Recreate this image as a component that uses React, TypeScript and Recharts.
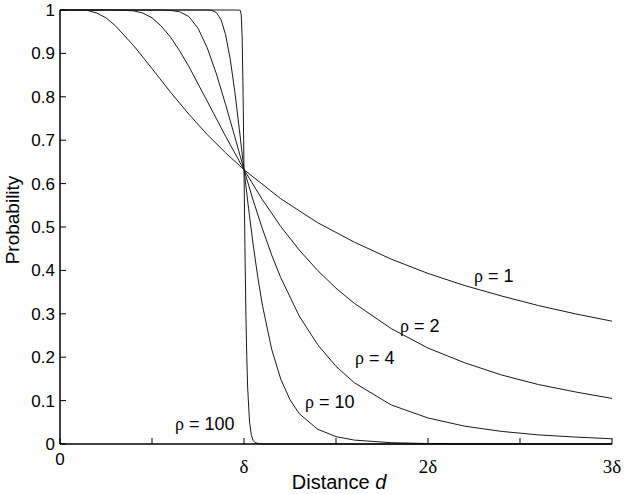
import { Line, LineChart, XAxis, YAxis } from "recharts";

// distance in units of delta, probability
const d1 = [0, 0.1, 0.15, 0.2, 0.25, 0.3, 0.4, 0.5, 0.6, 0.7, 0.8, 0.9, 1.0, 1.2, 1.4, 1.6, 1.8, 2.0, 2.2, 2.4, 2.6, 2.8, 3.0];
const p1 = [1, 1, 0.999, 0.993, 0.982, 0.964, 0.918, 0.865, 0.811, 0.76, 0.713, 0.671, 0.632, 0.565, 0.51, 0.465, 0.426, 0.393, 0.365, 0.341, 0.319, 0.3, 0.283];

const d2 = [0, 0.3, 0.4, 0.45, 0.5, 0.55, 0.6, 0.65, 0.7, 0.8, 0.9, 1.0, 1.1, 1.2, 1.3, 1.4, 1.5, 1.6, 1.8, 2.0, 2.2, 2.4, 2.6, 2.8, 3.0];
const p2 = [1, 1, 0.998, 0.993, 0.982, 0.963, 0.938, 0.906, 0.87, 0.79, 0.709, 0.632, 0.563, 0.501, 0.447, 0.4, 0.359, 0.324, 0.266, 0.221, 0.187, 0.159, 0.137, 0.12, 0.105];

const d4 = [0, 0.55, 0.6, 0.65, 0.7, 0.75, 0.8, 0.85, 0.9, 0.95, 1.0, 1.05, 1.1, 1.15, 1.2, 1.3, 1.4, 1.5, 1.6, 1.8, 2.0, 2.2, 2.4, 2.6, 2.8, 3.0];
const p4 = [1, 1, 0.999, 0.996, 0.985, 0.958, 0.913, 0.853, 0.782, 0.708, 0.632, 0.561, 0.496, 0.436, 0.383, 0.295, 0.229, 0.179, 0.141, 0.09, 0.06, 0.041, 0.029, 0.021, 0.016, 0.012];

const d10 = [0, 0.8, 0.825, 0.85, 0.875, 0.9, 0.925, 0.95, 0.975, 1.0, 1.025, 1.05, 1.075, 1.1, 1.15, 1.2, 1.25, 1.3, 1.4, 1.5, 1.6, 1.8, 2.0, 2.5, 3.0];
const p10 = [1, 1, 0.999, 0.994, 0.978, 0.943, 0.887, 0.812, 0.724, 0.632, 0.542, 0.459, 0.384, 0.32, 0.219, 0.149, 0.102, 0.07, 0.034, 0.017, 0.009, 0.003, 0.001, 0, 0];

const d100 = [0, 0.97, 0.98, 0.985, 0.99, 0.995, 1.0, 1.005, 1.01, 1.015, 1.02, 1.03, 1.04, 1.05, 1.06, 1.08, 1.1, 3.0];
const p100 = [1, 1, 0.999, 0.989, 0.935, 0.808, 0.632, 0.455, 0.309, 0.202, 0.129, 0.051, 0.02, 0.008, 0.003, 0.001, 0, 0];

const rhos = [1, 2, 4, 10, 100];
const xTicks = [0, 0.5, 1, 1.5, 2, 2.5, 3];
const xTickLabels: Record<number, string> = { 0: "0", 1: "δ", 2: "2δ", 3: "3δ" };
const yTicks = [0, 0.1, 0.2, 0.3, 0.4, 0.5, 0.6, 0.7, 0.8, 0.9, 1];

const toRows = (d: number[], p: number[]) => d.map((v, i) => ({ d: v, p: p[i] }));
const series = [toRows(d1, p1), toRows(d2, p2), toRows(d4, p4), toRows(d10, p10), toRows(d100, p100)];

// label anchor (start x, baseline y) in pixels, same order as rhos
const labelPos = [
  [474, 282],
  [400, 332],
  [355, 364],
  [305, 408],
  [175, 430],
];

const SANS = "'Liberation Sans', Arial, Helvetica, sans-serif";
const SERIF = "'Liberation Serif', 'Times New Roman', serif";
const TICK = 6;
const FRAME = { stroke: "#000", strokeWidth: 1.5 };

function BottomTick({ x, y, payload }: any) {
  const label = xTickLabels[payload.value] ?? "";
  const zero = payload.value === 0;
  return (
    <g>
      <line x1={x} y1={y} x2={x} y2={y - TICK} stroke="#000" />
      {label && (
        <text
          x={x}
          y={zero ? y + 21 : y + 29}
          textAnchor="middle"
          fontFamily={zero ? SANS : SERIF}
          fontSize={zero ? 17 : 19}
          fill="#000"
        >
          {label}
        </text>
      )}
    </g>
  );
}

function TopTick({ x, y }: any) {
  return <line x1={x} y1={y} x2={x} y2={y + TICK} stroke="#000" />;
}

function LeftTick({ x, y, payload }: any) {
  return (
    <g>
      <line x1={x} y1={y} x2={x + TICK} y2={y} stroke="#000" />
      <text x={x - 5} y={y} dy="0.35em" textAnchor="end" fontFamily={SANS} fontSize={17} fill="#000">
        {String(payload.value)}
      </text>
    </g>
  );
}

function RightTick({ x, y }: any) {
  return <line x1={x} y1={y} x2={x - TICK} y2={y} stroke="#000" />;
}

export default function App() {
  return (
    <div style={{ position: "absolute", left: 0, top: 0, width: 626, height: 494, background: "#fff" }}>
      <LineChart width={626} height={494} margin={{ top: 10, right: 14, bottom: 0, left: 0 }}>
        <XAxis
          dataKey="d"
          type="number"
          domain={[0, 3]}
          ticks={xTicks}
          interval={0}
          height={50}
          tickSize={0}
          tickMargin={0}
          tickLine={false}
          axisLine={FRAME}
          tick={<BottomTick />}
        />
        <XAxis
          xAxisId="top"
          orientation="top"
          dataKey="d"
          type="number"
          domain={[0, 3]}
          ticks={xTicks}
          interval={0}
          height={0}
          tickSize={0}
          tickMargin={0}
          tickLine={false}
          axisLine={FRAME}
          tick={<TopTick />}
        />
        <YAxis
          type="number"
          domain={[0, 1]}
          ticks={yTicks}
          interval={0}
          width={60}
          tickSize={0}
          tickMargin={0}
          tickLine={false}
          axisLine={FRAME}
          tick={<LeftTick />}
        />
        <YAxis
          yAxisId="right"
          orientation="right"
          type="number"
          domain={[0, 1]}
          ticks={yTicks}
          interval={0}
          width={0}
          tickSize={0}
          tickMargin={0}
          tickLine={false}
          axisLine={FRAME}
          tick={<RightTick />}
        />
        {series.map((rows, i) => (
          <Line
            key={rhos[i]}
            data={rows}
            dataKey="p"
            type="linear"
            stroke="#1a1a1a"
            strokeWidth={1}
            dot={false}
            activeDot={false}
            isAnimationActive={false}
          />
        ))}
      </LineChart>
      <svg width={626} height={494} style={{ position: "absolute", left: 0, top: 0, pointerEvents: "none" }}>
        {rhos.map((r, i) => (
          <text key={r} x={labelPos[i][0]} y={labelPos[i][1]} fontFamily={SANS} fontSize={18} fill="#000">
            <tspan fontFamily={SERIF}>ρ</tspan>
            <tspan>{` = ${r}`}</tspan>
          </text>
        ))}
        <text x={339} y={489} textAnchor="middle" fontFamily={SANS} fontSize={20} fill="#000">
          Distance <tspan fontStyle="italic">d</tspan>
        </text>
        <text
          x={0}
          y={0}
          transform="translate(19 220) rotate(-90)"
          textAnchor="middle"
          fontFamily={SANS}
          fontSize={19}
          fill="#000"
        >
          Probability
        </text>
      </svg>
    </div>
  );
}
